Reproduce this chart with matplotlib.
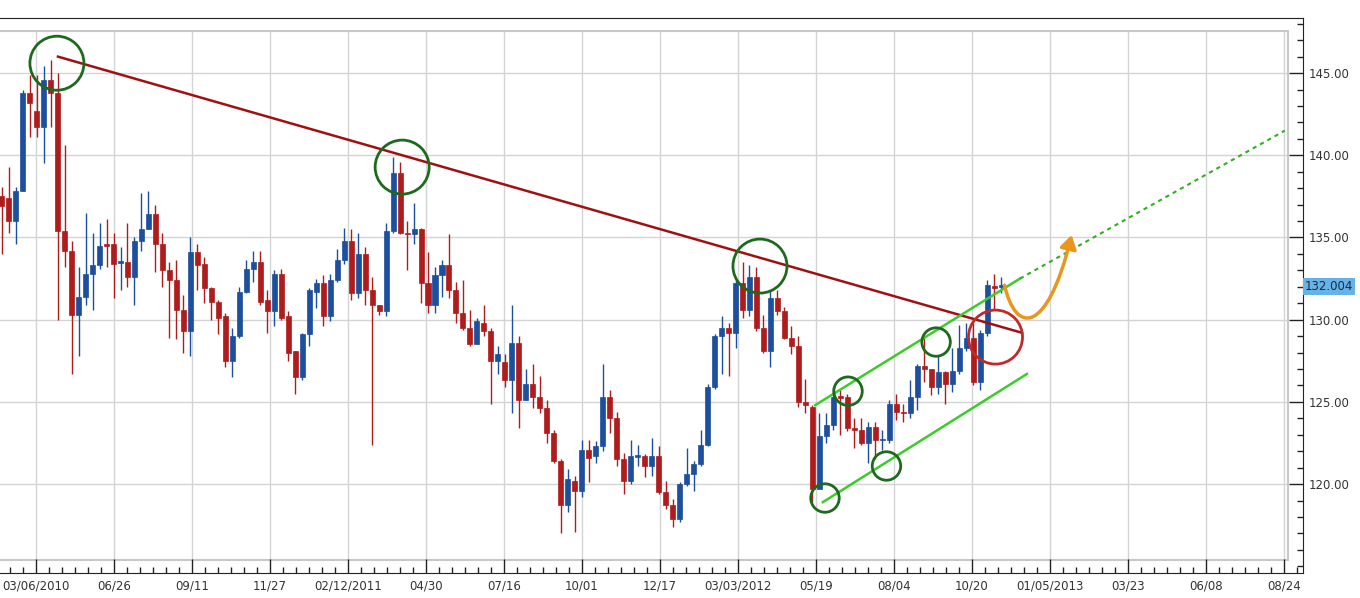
import numpy as np
import matplotlib
matplotlib.use('Agg')
import matplotlib.pyplot as plt
from matplotlib.patches import Rectangle, FancyArrowPatch
from matplotlib.path import Path
from matplotlib.ticker import MultipleLocator

# weekly candles (open, close, high, low)
opens = [137.5, 137.4, 136.0, 137.8, 143.8, 142.7, 141.7, 144.6, 143.8, 135.4,
         134.2, 130.3, 131.4, 132.8, 133.3, 134.6, 134.6, 133.45, 133.5, 132.6,
         134.8, 135.5, 136.4, 134.6, 133.0, 132.4, 130.6, 129.3, 134.1, 133.4,
         131.9, 131.1, 130.2, 127.5, 129.0, 131.7, 133.1, 133.5, 131.2, 130.5,
         132.8, 130.2, 128.1, 126.5, 129.1, 131.7, 132.2, 130.2, 132.4, 133.6,
         134.8, 131.6, 134.0, 131.8, 130.9, 130.5, 135.4, 138.9, 135.3, 135.2,
         135.5, 132.2, 130.9, 132.7, 133.3, 131.8, 130.4, 129.5, 128.5, 129.8,
         129.3, 127.5, 127.4, 126.3, 128.6, 125.1, 126.1, 125.3, 124.6, 123.1,
         121.4, 118.7, 120.2, 119.6, 122.1, 121.7, 122.3, 125.3, 124.0, 121.5,
         120.2, 121.65, 121.7, 121.1, 121.7, 119.5, 118.7, 117.9, 120.0, 120.6,
         121.2, 122.4, 125.9, 129.0, 129.5, 129.2, 132.2, 130.6, 132.6, 129.5,
         128.1, 131.3, 130.5, 128.9, 128.4, 125.0, 124.7, 119.7, 122.9, 123.6,
         125.35, 125.3, 123.4, 123.3, 122.5, 123.5, 122.65, 122.7, 124.9, 124.4,
         124.3, 125.3, 127.2, 127.0, 125.9, 126.8, 126.1, 126.9, 128.3, 128.9,
         126.2, 129.2, 132.05, 132.0]
closes = [136.9, 136.0, 137.8, 143.8, 143.2, 141.7, 144.6, 143.8, 135.4, 134.2,
          130.3, 131.4, 132.8, 133.3, 134.5, 134.5, 133.4, 133.55, 132.6, 134.8,
          135.5, 136.4, 134.6, 133.0, 132.4, 130.6, 129.3, 134.1, 133.3, 131.9,
          131.1, 130.1, 127.5, 129.0, 131.7, 133.1, 133.5, 131.1, 130.5, 132.8,
          130.1, 128.0, 126.5, 129.1, 131.8, 132.2, 130.2, 132.4, 133.6, 134.8,
          131.6, 134.0, 131.8, 130.9, 130.5, 135.4, 138.9, 135.3, 135.2, 135.5,
          132.2, 130.9, 132.7, 133.3, 131.8, 130.4, 129.5, 128.5, 129.9, 129.3,
          127.5, 127.9, 126.3, 128.6, 125.1, 126.1, 125.3, 124.6, 123.1, 121.4,
          118.7, 120.3, 119.6, 122.1, 121.6, 122.3, 125.3, 124.0, 121.5, 120.2,
          121.7, 121.75, 121.1, 121.7, 119.5, 118.7, 117.9, 120.0, 120.6, 121.2,
          122.4, 125.9, 129.0, 129.5, 129.2, 132.2, 130.6, 132.6, 129.5, 128.1,
          131.3, 130.5, 128.9, 128.4, 125.0, 124.8, 119.7, 122.9, 123.6, 125.3,
          125.25, 123.4, 123.3, 122.5, 123.5, 122.7, 122.75, 124.9, 124.4, 124.3,
          125.3, 127.2, 127.0, 125.9, 126.8, 126.1, 126.9, 128.3, 128.9, 126.2,
          129.2, 132.1, 131.95, 132.05]
highs = [138.1, 139.3, 138.1, 144.0, 144.9, 144.9, 145.4, 145.8, 145.0, 140.6,
         134.8, 133.2, 136.5, 135.3, 135.9, 136.1, 135.3, 134.4, 135.9, 135.0,
         137.7, 137.8, 137.0, 135.3, 133.5, 133.6, 131.5, 135.0, 134.6, 133.8,
         132.0, 131.2, 130.4, 129.5, 132.0, 133.6, 134.2, 134.2, 131.8, 133.0,
         133.1, 130.5, 128.1, 129.2, 131.9, 132.5, 132.7, 132.8, 134.3, 135.6,
         135.5, 135.3, 134.4, 132.6, 130.9, 135.9, 139.9, 139.6, 136.0, 137.1,
         135.6, 134.1, 133.2, 133.6, 135.2, 132.3, 132.4, 130.6, 130.1, 130.9,
         129.5, 128.4, 127.9, 130.9, 129.0, 127.0, 127.3, 126.6, 125.1, 123.3,
         121.5, 120.9, 120.5, 122.7, 122.7, 122.6, 127.3, 125.7, 124.4, 121.9,
         122.7, 122.4, 121.8, 122.8, 122.3, 120.2, 119.1, 120.1, 122.2, 121.4,
         123.3, 126.1, 129.1, 130.2, 129.8, 132.4, 133.5, 133.3, 133.2, 130.3,
         131.8, 131.8, 130.8, 129.6, 129.0, 126.4, 124.8, 124.3, 124.3, 125.9,
         125.7, 125.5, 124.0, 124.0, 123.8, 123.8, 123.3, 125.1, 125.5, 124.9,
         126.3, 127.3, 128.9, 127.0, 127.8, 126.9, 128.3, 129.7, 129.8, 129.8,
         129.4, 132.4, 132.8, 132.6]
lows = [134.0, 135.3, 134.6, 137.8, 141.1, 141.1, 139.5, 141.7, 130.0, 133.2,
        126.7, 127.8, 130.9, 130.6, 133.1, 133.2, 131.3, 131.8, 132.0, 130.9,
        134.2, 135.5, 132.9, 132.0, 128.9, 128.8, 128.0, 127.8, 131.8, 131.0,
        130.0, 129.1, 127.1, 126.5, 128.9, 131.6, 132.3, 130.9, 129.2, 129.6,
        130.0, 127.5, 125.5, 126.3, 128.4, 130.7, 129.6, 129.9, 132.3, 133.4,
        131.2, 131.3, 130.9, 122.4, 130.3, 130.2, 135.3, 135.2, 133.0, 134.6,
        131.0, 130.4, 130.4, 131.4, 131.3, 129.8, 129.4, 128.4, 128.5, 129.0,
        124.9, 126.7, 125.9, 124.3, 123.4, 125.1, 124.6, 124.3, 122.5, 121.3,
        117.0, 118.3, 117.1, 119.2, 120.1, 121.3, 122.0, 123.1, 121.1, 119.4,
        120.0, 121.1, 120.4, 120.5, 119.4, 118.5, 117.4, 117.7, 119.9, 119.6,
        121.1, 122.3, 125.8, 126.7, 126.6, 128.3, 130.1, 130.2, 129.3, 128.0,
        127.1, 130.3, 128.8, 127.9, 124.7, 124.3, 118.9, 119.7, 122.5, 123.3,
        123.0, 123.2, 122.2, 122.4, 121.3, 121.5, 122.1, 122.5, 123.9, 123.8,
        124.0, 124.5, 126.2, 125.4, 125.5, 124.9, 125.6, 126.7, 128.1, 126.0,
        125.7, 129.0, 130.6, 131.6]

date_labels = ['03/06/2010', '06/26', '09/11', '11/27', '02/12/2011', '04/30',
               '07/16', '10/01', '12/17', '03/03/2012', '05/19', '08/04',
               '10/20', '01/05/2013', '03/23', '06/08', '08/24']
last_price = 132.004

# trend lines drawn on the chart (week index, price)
resist_x, resist_y = [8.05, 146.0], [146.0, 129.2]
upper_x, upper_y = [116.4, 145.7], [124.8, 132.5]
proj_x, proj_y = [145.7, 183.6], [132.5, 141.5]
lower_x, lower_y = [117.5, 146.7], [118.9, 126.7]

# highlight circles
big_cx, big_cy = [7.9, 57.3, 108.5], [145.6, 139.28, 133.26]
small_cx, small_cy = [121.1, 133.7, 126.6, 117.8], [125.65, 128.64, 121.1, 119.15]
red_cx, red_cy = [142.2], [128.94]

RED = '#b01c1c'
BLUE = '#1c4f9e'

fig = plt.figure(figsize=(13.6, 5.98), dpi=100)
ax = fig.add_axes([0, 25 / 598, 1303 / 1360, 555 / 598])

# inner plot frame and grid
inner_right, inner_top, inner_bot = 184.0, 147.55, 115.38
ax.add_patch(Rectangle((-1, inner_bot), inner_right + 1, inner_top - inner_bot,
                       fill=False, ec='#c8c8c8', lw=1.5, zorder=1))
grid_x = [(34.3 + 78 * k) / 6.99 for k in range(len(date_labels))]
ax.vlines(grid_x, inner_bot, inner_top, color='#d4d4d4', lw=1, zorder=0)
ax.hlines(np.arange(120, 146, 5), -1, inner_right, color='#d4d4d4', lw=1, zorder=0)

# candles
for i, (o, c, h, l) in enumerate(zip(opens, closes, highs, lows)):
    col = BLUE if c >= o else RED
    ax.vlines(i, l, h, color=col, lw=1, zorder=2)
    ax.add_patch(Rectangle((i - 0.36, min(o, c)), 0.72, max(abs(c - o), 0.08),
                           fc=col, ec=col, lw=0.5, zorder=3))

ax.plot(resist_x, resist_y, color='#a01010', lw=1.8, zorder=4)
ax.plot(upper_x, upper_y, color='#3ccc2a', lw=1.8, zorder=4)
ax.plot(proj_x, proj_y, color='#2fb020', lw=1.5, ls=(0, (2, 2)), zorder=4)
ax.plot(lower_x, lower_y, color='#3ccc2a', lw=1.8, zorder=4)

ax.scatter(big_cx, big_cy, s=1513, facecolors='none', edgecolors='#1d6a1d', lw=2, zorder=5)
ax.scatter(small_cx, small_cy, s=420, facecolors='none', edgecolors='#1d6a1d', lw=2, zorder=5)
ax.scatter(red_cx, red_cy, s=1513, facecolors='none', edgecolors='#c02a2a', lw=2, zorder=5)

# orange arrow
arrow_path = Path([(143.5, 132.1), (145.0, 129.2), (149.5, 128.9), (153.1, 135.15)],
                  [Path.MOVETO, Path.CURVE4, Path.CURVE4, Path.CURVE4])
ax.add_patch(FancyArrowPatch(path=arrow_path, arrowstyle='-|>,head_length=8,head_width=5',
                             color='#e8961e', lw=2.5, zorder=6))

# axes styling
ax.spines['left'].set_visible(False)
for side in ['right', 'bottom', 'top']:
    ax.spines[side].set_color('#222222')
ax.yaxis.tick_right()
ax.yaxis.set_minor_locator(MultipleLocator(1))
ax.set_yticks(np.arange(120, 146, 5))
ax.set_yticklabels(['%.2f' % v for v in np.arange(120, 146, 5)])
ax.set_xticks(grid_x)
ax.set_xticklabels(date_labels)
minor_x = [g + d * 11.16 / 6 for g in [grid_x[0] - 11.16] + grid_x for d in range(1, 6)]
ax.set_xticks([m for m in minor_x if 0 < m < 186], minor=True)
ax.tick_params(axis='both', which='major', direction='in', length=10, width=1,
               labelsize=8.5, labelcolor='#333333', color='#222222')
ax.tick_params(axis='both', which='minor', direction='in', length=4, width=1, color='#222222')
ax.tick_params(axis='y', pad=4)
ax.tick_params(axis='x', pad=5)

ax.set_xlim(-0.243, 186.2)
ax.set_ylim(114.59, 148.35)

ax.text(186.4, last_price, '%.3f' % last_price, fontsize=8.5, color='#1a2a3a',
        va='center', ha='left', clip_on=False,
        bbox=dict(boxstyle='square,pad=0.15', fc='#66b3ea', ec='none'))

fig.savefig('out.png', dpi=100, facecolor='white')
